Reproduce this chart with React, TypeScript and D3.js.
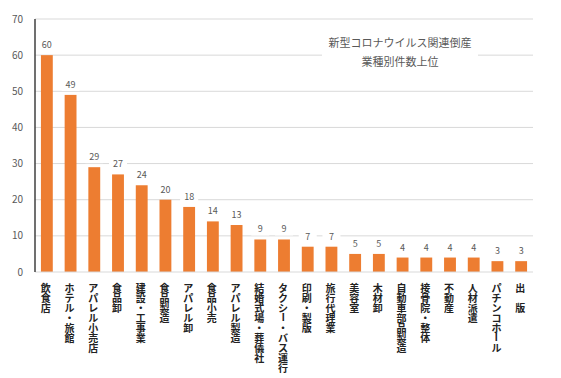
import React from "react";
import * as d3 from "d3";

const categories = [
  "飲食店", "ホテル・旅館", "アパレル小売店", "食品卸", "建設・工事業", "食品製造", "アパレル卸",
  "食品小売", "アパレル製造", "結婚式場・葬儀社", "タクシー・バス運行", "印刷・製版", "旅行代理業",
  "美容室", "木材卸", "自動車部品製造", "接骨院・整体", "不動産", "人材派遣", "パチンコホール", "出　版",
];
const values = [60, 49, 29, 27, 24, 20, 18, 14, 13, 9, 9, 7, 7, 5, 5, 4, 4, 4, 4, 3, 3];
const yTicks = [0, 10, 20, 30, 40, 50, 60, 70];
const titleLines = ["新型コロナウイルス関連倒産", "業種別件数上位"];

const W = 561, H = 378;
const left = 35, right = 533, top = 19, bottom = 272;
const font = "'Noto Sans CJK JP', 'Noto Sans', sans-serif";

export default function App() {
  const x = d3.scaleBand<string>().domain(categories).range([left, right]).paddingInner(0.5).paddingOuter(0.25);
  const y = d3.scaleLinear().domain([0, 70]).range([bottom, top]);
  return (
    <svg width={W} height={H} style={{ position: "absolute", left: 0, top: 0 }} fontFamily={font}>
      <rect width={W} height={H} fill="#fff" />
      {yTicks.map((t) => (
        <g key={t}>
          {t > 0 && <line x1={left} x2={right} y1={y(t)} y2={y(t)} stroke="#d9d9d9" strokeWidth={1} />}
          <text x={23} y={y(t)} dy="0.35em" textAnchor="end" fontSize={10} fill="#595959">{t}</text>
        </g>
      ))}
      <rect x={322} y={34} width={156} height={36} fill="#fff" />
      {titleLines.map((s, i) => (
        <text key={i} x={400} y={43 + i * 19} dy="0.35em" textAnchor="middle" fontSize={11} fill="#595959">{s}</text>
      ))}
      {categories.map((c, i) => {
        const cx = x(c)! + x.bandwidth() / 2;
        return (
          <g key={c}>
            <rect x={x(c)} y={y(values[i])} width={x.bandwidth()} height={y(0) - y(values[i])} fill="#ED7D31" />
            <rect x={cx - 9} y={y(values[i]) - 17} width={18} height={13} fill="#fff" />
            <text x={cx} y={y(values[i]) - 7} textAnchor="middle" fontSize={9} fill="#595959">{values[i]}</text>
            {Array.from(c).map((ch, k) => {
              const cy = 287 + k * 10;
              return (
                <text key={k} x={cx - 1} y={cy} dominantBaseline="central" textAnchor="middle" fontSize={10}
                  fontWeight="bold" fill="#222"
                  transform={ch === "ー" ? `rotate(90 ${cx - 1} ${cy})` : undefined}>{ch}</text>
              );
            })}
          </g>
        );
      })}
      <line x1={left} x2={right} y1={bottom} y2={bottom} stroke="#d9d9d9" strokeWidth={1} />
      <line x1={left} x2={left} y1={top} y2={bottom} stroke="#404040" strokeWidth={1.5} />
    </svg>
  );
}
